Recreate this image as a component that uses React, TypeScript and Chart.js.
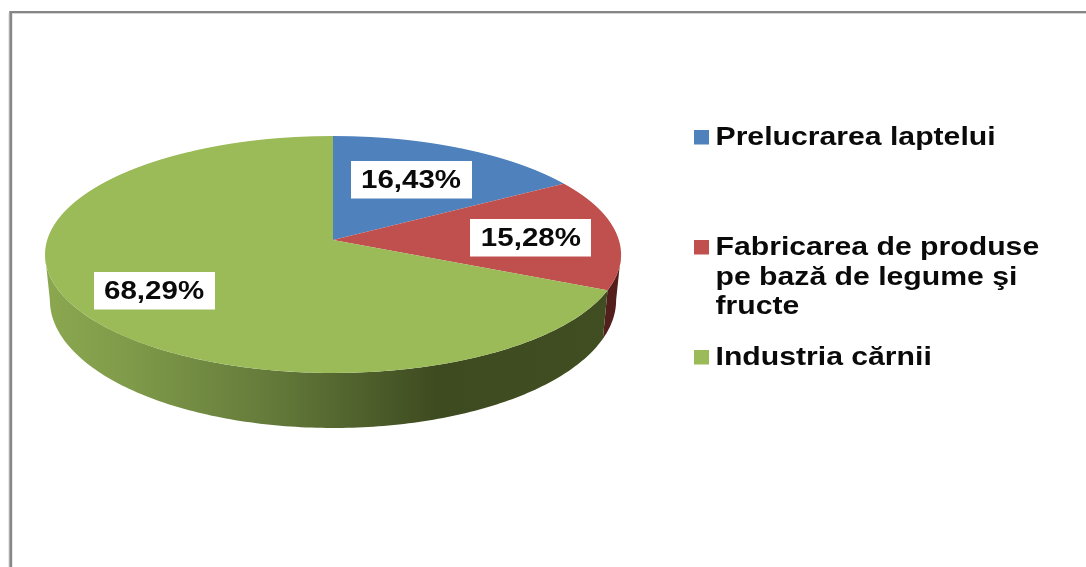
import React, { useEffect, useRef } from "react";
import { Chart, registerables } from "chart.js";

Chart.register(...registerables);

const categories = [
  ["Prelucrarea laptelui"],
  ["Fabricarea de produse", "pe bază de legume şi", "fructe"],
  ["Industria cărnii"],
];
const shares = [16.43, 15.28, 68.29];
const shareLabels = ["16,43%", "15,28%", "68,29%"];
const faceColors = ["#4f81bd", "#c0504d", "#9bbb59"];

const W = 1086;
const H = 567;
const CX = 333;
const CY = 240;
const R = 288;
// perspective of the disc: x = a*u/(1+k*v), y = b*v/(1+k*v)
const K = -0.1224;
const A = 285.8;
const B = 116.7;
// the lower rim of the disc
const A2 = 281;
const B2 = 126;
const Y2 = 284.4;

const LEGEND_STRETCH = 1.207;
const LABEL_STRETCH = 1.18;
const FONT = 'bold 25px "Liberation Sans", Arial, sans-serif';

function face(u: number, v: number) {
  const d = 1 + K * v;
  return { x: CX + (A * u) / d, y: CY + (B * v) / d };
}
function rim(u: number, v: number) {
  const d = 1 + K * v;
  return { x: CX + (A2 * u) / d, y: Y2 + (B2 * v) / d };
}

function stretchedText(
  ctx: CanvasRenderingContext2D,
  text: string,
  x: number,
  y: number,
  stretch: number,
  center = false
) {
  ctx.save();
  ctx.translate(x, y);
  ctx.scale(stretch, 1);
  ctx.textAlign = center ? "center" : "left";
  ctx.textBaseline = "alphabetic";
  ctx.filter = "blur(0.45px)";
  ctx.fillText(text, 0, 0);
  ctx.restore();
}

const framePlugin = {
  id: "frame",
  beforeDraw(chart: any) {
    const ctx = chart.ctx;
    ctx.save();
    ctx.fillStyle = "#ffffff";
    ctx.fillRect(0, 0, W, H);
    ctx.fillStyle = "#d4d4d4";
    ctx.fillRect(8.5, 13, 4, H);
    ctx.fillRect(12, 13, W, 1);
    ctx.fillStyle = "#868686";
    ctx.fillRect(9.5, 11, W, 2);
    ctx.fillRect(9.5, 11, 2.5, H);
    ctx.restore();
  },
};

const wallFill = (ctx: CanvasRenderingContext2D, index: number) => {
  if (index === 1) return "#521f1d";
  const g = ctx.createLinearGradient(45, 0, 620, 0);
  g.addColorStop(0, "#8ba850");
  g.addColorStop(0.15, "#7f9a49");
  g.addColorStop(0.4, "#63793a");
  g.addColorStop(0.68, "#3e4b20");
  g.addColorStop(1, "#414e22");
  return g;
};

const discPlugin = {
  id: "disc",
  beforeDatasetsDraw(chart: any) {
    const ctx: CanvasRenderingContext2D = chart.ctx;
    const arcs = chart.getDatasetMeta(0).data;
    // the side of the disc, seen only on its near half
    const lo = Math.asin(-K);
    const hi = Math.PI - lo;
    arcs.forEach((arc: any, i: number) => {
      const a = Math.max(arc.startAngle, lo);
      const b = Math.min(arc.endAngle, hi);
      if (b <= a) return;
      const steps = 160;
      ctx.beginPath();
      for (let s = 0; s <= steps; s++) {
        const t = a + ((b - a) * s) / steps;
        const p = face(Math.cos(t), Math.sin(t));
        if (s === 0) ctx.moveTo(p.x, p.y);
        else ctx.lineTo(p.x, p.y);
      }
      for (let s = steps; s >= 0; s--) {
        const t = a + ((b - a) * s) / steps;
        const p = rim(Math.cos(t), Math.sin(t));
        ctx.lineTo(p.x, p.y);
      }
      ctx.closePath();
      ctx.fillStyle = wallFill(ctx, i);
      ctx.fill();
    });
    // the top of the disc: the library's arcs, row by row through the perspective
    for (let row = 130; row < 380; row++) {
      const yy = row + 0.5 - CY;
      const v = yy / (B - K * yy);
      if (Math.abs(v) > 1.02) continue;
      const d = 1 + K * v;
      ctx.save();
      ctx.beginPath();
      ctx.rect(0, row, W, 1);
      ctx.clip();
      ctx.translate(CX, row + 0.5);
      ctx.scale(A / (R * d), B / (d * d * R));
      ctx.translate(-CX, -(CY + v * R));
      arcs.forEach((arc: any) => arc.draw(ctx));
      ctx.restore();
    }
  },
  beforeDatasetDraw() {
    return false;
  },
};

const labelReach = [0.6, 0.69, 0.72];
const labelNudge = [[-2, -3.5], [1.5, 2], [2, 2.5]];

const labelsPlugin = {
  id: "pieLabels",
  afterDatasetsDraw(chart: any) {
    const ctx: CanvasRenderingContext2D = chart.ctx;
    const arcs = chart.getDatasetMeta(0).data;
    ctx.save();
    ctx.font = FONT;
    arcs.forEach((arc: any, i: number) => {
      const mid = (arc.startAngle + arc.endAngle) / 2;
      const f = labelReach[i];
      const p = face(f * Math.cos(mid), f * Math.sin(mid));
      const x = p.x + labelNudge[i][0];
      const y = p.y + labelNudge[i][1];
      ctx.fillStyle = "#ffffff";
      ctx.fillRect(Math.round(x - 60), Math.round(y - 18.5), 121, 37.5);
      ctx.fillStyle = "#0a0a0a";
      stretchedText(ctx, shareLabels[i], x + 0.5, y + 9, LABEL_STRETCH, true);
    });
    ctx.restore();
  },
};

const legendRows = [145, 255, 365];
const legendLeading = 29.5;

const legendPlugin = {
  id: "sideLegend",
  afterDraw(chart: any) {
    const ctx: CanvasRenderingContext2D = chart.ctx;
    const colors = chart.data.datasets[0].backgroundColor;
    ctx.save();
    ctx.font = FONT;
    chart.data.labels.forEach((lines: string[], i: number) => {
      const base = legendRows[i];
      ctx.fillStyle = colors[i];
      ctx.fillRect(694, base - 15, 15, 14.5);
      ctx.fillStyle = "#0a0a0a";
      lines.forEach((line, j) => stretchedText(ctx, line, 715.5, base + j * legendLeading, LEGEND_STRETCH));
    });
    ctx.restore();
  },
};

export default function App() {
  const ref = useRef<HTMLCanvasElement>(null);
  useEffect(() => {
    document.body.style.margin = "0";
    const chart = new Chart(ref.current!, {
      type: "pie",
      data: {
        labels: categories as any,
        datasets: [
          {
            data: shares,
            backgroundColor: faceColors,
            borderWidth: 0,
            radius: R,
          } as any,
        ],
      },
      options: {
        responsive: false,
        animation: false,
        events: [],
        layout: { padding: { left: CX - R, right: W - CX - R, top: 0, bottom: H - 2 * CY } },
        plugins: { legend: { display: false }, tooltip: { enabled: false } },
      },
      plugins: [framePlugin, discPlugin, labelsPlugin, legendPlugin],
    });
    return () => chart.destroy();
  }, []);
  return <canvas ref={ref} width={W} height={H} style={{ display: "block", width: W, height: H }} />;
}
